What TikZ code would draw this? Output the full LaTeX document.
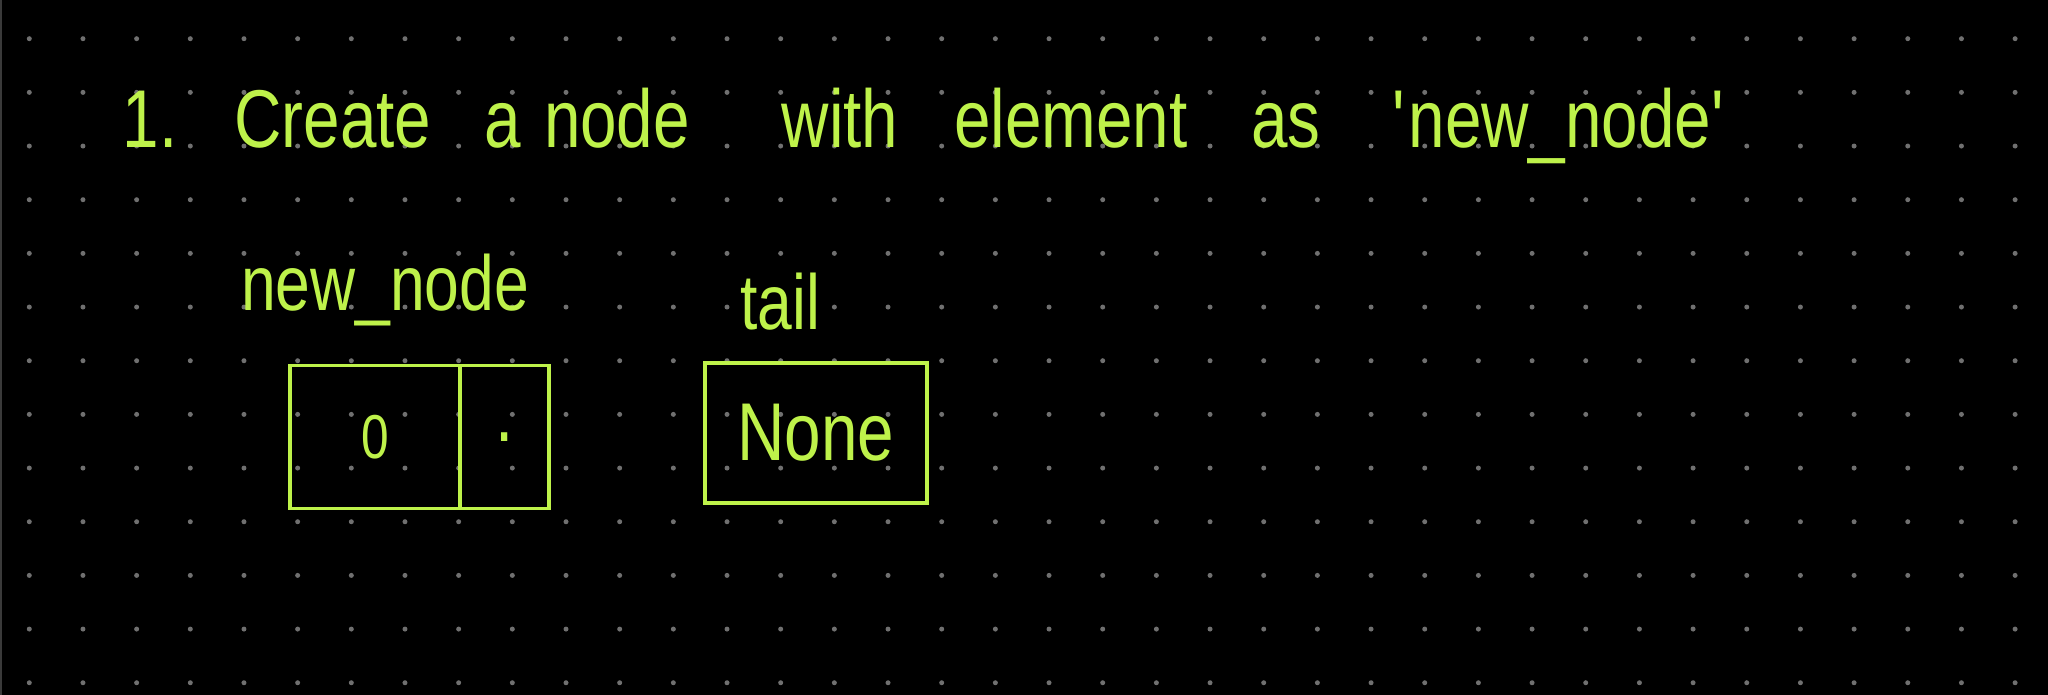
\documentclass[tikz,border=0pt]{standalone}
\usepackage{fontspec}
\usepackage{tikz}
\usetikzlibrary{positioning}
\newfontfamily\handfont[FakeStretch=0.8]{Liberation Sans}
\definecolor{ink}{HTML}{BEF24A}
\definecolor{gridgrey}{HTML}{707070}
\definecolor{edgegrey}{HTML}{3A3A3A}
\tikzset{
  word/.style={anchor=base,inner sep=0pt,text=ink,font=\handfont\fontsize{82}{90}\selectfont},
  lbl/.style={anchor=base,inner sep=0pt,text=ink,font=\handfont\fontsize{78}{86}\selectfont},
  cell/.style={draw=ink,line width=3.4pt,inner sep=0pt,text=ink,
              font=\handfont\fontsize{82}{90}\selectfont},
  griddot/.style={fill=gridgrey},
}

\begin{document}
\begin{tikzpicture}[x=1pt,y=-1pt]
  \fill[black] (0,0) rectangle (2048,695);
  \useasboundingbox (0,0) rectangle (2048,695);
  \draw[edgegrey,line width=1.5pt] (0.75,0)--(0.75,695);
  % dotted paper
  \foreach \i in {0,...,37}{
    \foreach \j in {0,...,12}{\fill[griddot] ({29.3+53.67*\i},{38.7+53.67*\j}) circle (2.5);}
  }
  % heading
  \foreach \w/\x [count=\i] in {1./150,Create/333,a/503,node/617,with/840,
      element/1071,as/1286,{\textquotesingle new\_node\textquotesingle}/1560}
    {\node[word] (w\i) at (\x,148) {\w};}
  % node and tail
  \node[lbl] (newlbl) at (385,310) {new\_node};
  \node[lbl] (taillbl) at (780,329) {tail};
  \node[cell,minimum width=170pt,minimum height=143pt,
        font=\handfont\fontsize{62}{70}\selectfont] (val) at (375,437) {0};
  \node[cell,minimum width=89pt,minimum height=143pt,right=-3.4pt of val] (nxt) {.};
  \node[cell,minimum width=222pt,minimum height=140pt] (tailbox) at (816,433) {None};
\end{tikzpicture}
\end{document}
